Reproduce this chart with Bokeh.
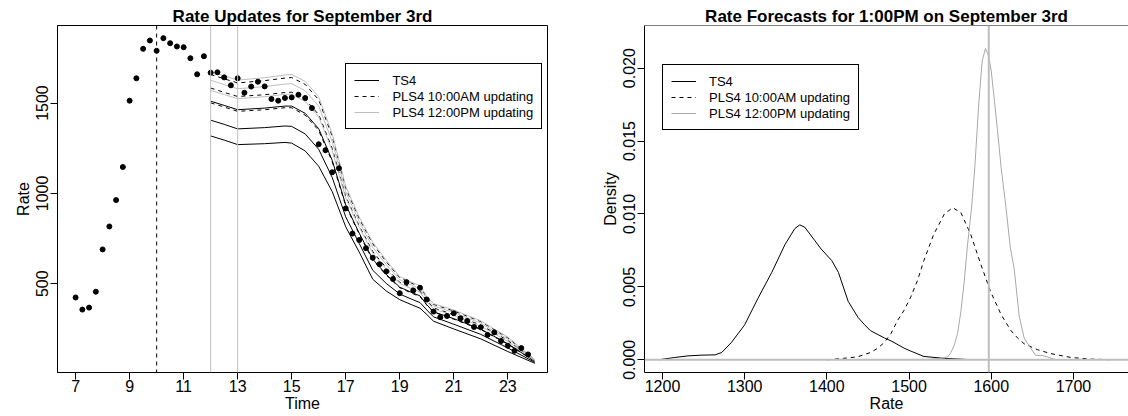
from bokeh.plotting import figure
from bokeh.models import Range1d, FixedTicker, Legend, LegendItem, Span
from bokeh.layouts import row
from bokeh.embed import file_html
from bokeh.resources import INLINE

FONT = "Liberation Sans"
GRAY = "#BEBEBE"

# ---------------- data: left panel ----------------
obs_time = [7, 7.25, 7.5, 7.75, 8, 8.25, 8.5, 8.75, 9, 9.25, 9.5, 9.75, 10, 10.25, 10.5, 10.75,
            11, 11.25, 11.5, 11.75, 12, 12.25, 12.5, 12.75, 13, 13.25, 13.5, 13.75, 14, 14.25,
            14.5, 14.75, 15, 15.25, 15.5, 15.75, 16, 16.25, 16.5, 16.75, 17, 17.25, 17.5, 17.75,
            18, 18.25, 18.5, 18.75, 19, 19.25, 19.5, 19.75, 20, 20.25, 20.5, 20.75, 21, 21.25,
            21.5, 21.75, 22, 22.25, 22.5, 22.75, 23, 23.25, 23.5, 23.75]
obs_rate = [424, 357, 368, 456, 690, 817, 963, 1146, 1513, 1637, 1800, 1846, 1789, 1859, 1831, 1813,
            1809, 1748, 1659, 1759, 1668, 1670, 1642, 1598, 1637, 1557, 1591, 1618, 1592, 1522,
            1513, 1528, 1531, 1546, 1528, 1472, 1272, 1239, 1117, 1139, 917, 778, 742, 697,
            644, 608, 568, 526, 448, 509, 463, 478, 413, 346, 315, 322, 337, 309,
            294, 261, 259, 217, 231, 183, 157, 129, 144, 109]

fc_time = [12, 12.5, 13, 14, 14.75, 15, 15.5, 16, 16.5, 17, 17.5, 18, 18.5, 19, 19.5, 19.75,
           20, 20.25, 21, 22, 23, 24]
ts4_lo = [1318, 1295, 1270, 1275, 1282, 1278, 1235, 1150, 1010, 815, 675, 525, 460, 412, 380, 365, 330, 293, 250, 195, 125, 60]
ts4_mid = [1405, 1382, 1357, 1364, 1373, 1371, 1329, 1244, 1088, 870, 723, 575, 502, 443, 411, 396, 355, 317, 276, 220, 145, 65]
ts4_hi = [1510, 1487, 1463, 1472, 1483, 1483, 1443, 1358, 1183, 937, 780, 636, 552, 481, 448, 433, 384, 345, 307, 249, 168, 71]
pls10_lo = [1501, 1478, 1454, 1463, 1474, 1474, 1433, 1348, 1175, 931, 775, 631, 548, 478, 444, 429, 382, 343, 304, 247, 166, 70]
pls10_mid = [1583, 1559, 1536, 1546, 1558, 1560, 1520, 1436, 1248, 983, 820, 679, 588, 508, 474, 459, 406, 366, 329, 271, 186, 75]
pls10_hi = [1658, 1634, 1611, 1624, 1638, 1641, 1603, 1518, 1316, 1030, 861, 721, 622, 534, 499, 484, 426, 386, 350, 291, 201, 79]
pls12_lo = [1570, 1547, 1524, 1535, 1548, 1549, 1509, 1424, 1237, 975, 813, 671, 580, 502, 468, 453, 400, 361, 324, 265, 181, 74]
pls12_mid = [1626, 1602, 1579, 1591, 1605, 1607, 1568, 1483, 1287, 1010, 844, 702, 607, 523, 488, 473, 417, 377, 341, 282, 194, 77]
pls12_hi = [1674, 1650, 1627, 1640, 1655, 1658, 1620, 1535, 1330, 1040, 870, 730, 630, 540, 505, 490, 430, 390, 355, 295, 205, 80]

left_xticks = [7, 9, 11, 13, 15, 17, 19, 21, 23]
left_xlabels = ["7", "9", "11", "13", "15", "17", "19", "21", "23"]
left_yticks = [500, 1000, 1500]
left_ylabels = ["500", "1000", "1500"]

# ---------------- data: right panel ----------------
ts4_x = [1195, 1215, 1231, 1247, 1264, 1272, 1284, 1300, 1316, 1333, 1349, 1361, 1367, 1373, 1385,
         1393, 1406, 1414, 1426, 1438, 1446, 1453, 1470, 1478, 1494, 1502, 1518, 1543, 1569]
ts4_d = [0, 0.00016, 0.00027, 0.00032, 0.00034, 0.0005, 0.0012, 0.0024, 0.0042, 0.006, 0.0079,
         0.009, 0.00925, 0.0091, 0.0082, 0.0076, 0.0068, 0.006, 0.004, 0.0029, 0.0024, 0.002,
         0.0015, 0.0013, 0.0008, 0.0006, 0.00023, 0.0001, 0.00003]
p10_x = [1400, 1420, 1437, 1453, 1462, 1470, 1478, 1486, 1494, 1502, 1510, 1518, 1530, 1543,
         1553, 1563, 1575, 1587, 1599, 1612, 1624, 1632, 1640, 1656, 1672, 1697, 1721, 1749]
p10_d = [0, 0.0001, 0.0002, 0.0005, 0.0008, 0.0012, 0.0018, 0.0027, 0.0034, 0.0043, 0.0054,
         0.0068, 0.0086, 0.01, 0.01043, 0.0101, 0.0086, 0.0066, 0.0047, 0.0031, 0.002, 0.0015,
         0.0011, 0.0007, 0.00043, 0.00016, 0.00005, 0]
p12_x = [1518, 1539, 1547, 1551, 1555, 1559, 1563, 1567, 1571, 1576, 1580, 1585, 1589, 1593,
         1597, 1600, 1604, 1608, 1612, 1618, 1623, 1628, 1634, 1640, 1648, 1654, 1662, 1668, 1676, 1680]
p12_d = [0, 0.0001, 0.0002, 0.0005, 0.001, 0.0018, 0.0033, 0.0053, 0.0078, 0.0104, 0.0132,
         0.0177, 0.0205, 0.02135, 0.0208, 0.0198, 0.0177, 0.0155, 0.0132, 0.0104, 0.0078, 0.0062,
         0.003, 0.0015, 0.0008, 0.0003, 0.0003, 0.0002, 0.00005, 0]
actual_rate = 1597

right_xticks = [1200, 1300, 1400, 1500, 1600, 1700]
right_xlabels = ["1200", "1300", "1400", "1500", "1600", "1700"]
right_yticks = [0, 0.005, 0.01, 0.015, 0.02]
right_ylabels = ["0.000", "0.005", "0.010", "0.015", "0.020"]

legend_labels = ["TS4", "PLS4 10:00AM updating", "PLS4 12:00PM updating"]
titles = ["Rate Updates for September 3rd", "Rate Forecasts for 1:00PM on September 3rd"]


def style(p, xticks, xlabels, yticks, ylabels, xlab, ylab, title, title_offset):
    p.xgrid.visible = False
    p.ygrid.visible = False
    p.background_fill_color = "white"
    p.border_fill_color = "white"
    for ax, ticks, labels in ((p.xaxis[0], xticks, xlabels), (p.yaxis[0], yticks, ylabels)):
        ax.ticker = FixedTicker(ticks=ticks)
        ax.major_label_overrides = {t: l for t, l in zip(ticks, labels)}
        ax.major_tick_out = 7
        ax.major_tick_in = 0
        ax.minor_tick_out = 0
        ax.minor_tick_in = 0
        ax.major_tick_line_color = "black"
        ax.axis_line_color = "black"
        ax.major_label_text_font = FONT
        ax.major_label_text_font_size = "16px"
        ax.major_label_text_color = "black"
        ax.axis_label_text_font = FONT
        ax.axis_label_text_font_size = "16px"
        ax.axis_label_text_font_style = "normal"
        ax.axis_label_text_color = "black"
    p.xaxis.major_label_standoff = 0
    p.xaxis.axis_label_standoff = 0
    p.yaxis.major_label_standoff = 2
    p.yaxis.axis_label_standoff = 2
    p.yaxis.major_label_orientation = "vertical"
    p.xaxis.axis_label = xlab
    p.yaxis.axis_label = ylab
    p.title.text = title
    p.title.align = "center"
    p.title.text_font = FONT
    p.title.text_font_size = "17px"
    p.title.text_font_style = "bold"
    p.title.text_color = "black"
    p.title.standoff = 0
    p.title.offset = title_offset


def make_legend(p, renderers, loc):
    leg = Legend(items=[LegendItem(label=l, renderers=[r]) for l, r in zip(legend_labels, renderers)],
                 location=loc)
    leg.border_line_color = "black"
    leg.border_line_alpha = 1
    leg.border_line_width = 1
    leg.background_fill_color = "white"
    leg.background_fill_alpha = 1
    leg.label_text_font = FONT
    leg.label_text_font_size = "13px"
    leg.label_text_color = "black"
    leg.glyph_width = 25
    leg.glyph_height = 16
    leg.label_height = 16
    leg.label_standoff = 13
    leg.padding = 8
    leg.spacing = 0
    leg.margin = 0
    p.add_layout(leg)


# ---------------- left panel ----------------
p1 = figure(width=564, height=416, output_backend="svg", toolbar_location=None,
            x_range=Range1d(6.33, 24.47), y_range=Range1d(9, 1929),
            min_border_left=57, min_border_right=17, min_border_top=25, min_border_bottom=44)
style(p1, left_xticks, left_xlabels, left_yticks, left_ylabels, "Time", "Rate", titles[0], 0)
p1.outline_line_color = "black"
p1.outline_line_alpha = 1
p1.outline_line_width = 1

p1.add_layout(Span(location=10, dimension="height", line_color="black", line_width=1, line_dash="4 4"))
p1.add_layout(Span(location=12, dimension="height", line_color=GRAY, line_width=1))
p1.add_layout(Span(location=13, dimension="height", line_color=GRAY, line_width=1))

r_ts = None
for ys in (ts4_lo, ts4_mid, ts4_hi):
    r = p1.line(fc_time, ys, line_color="black", line_width=1)
    r_ts = r_ts or r
r_p10 = None
for ys in (pls10_lo, pls10_mid, pls10_hi):
    r = p1.line(fc_time, ys, line_color="black", line_width=1, line_dash="4 4")
    r_p10 = r_p10 or r
r_p12 = None
for ys in (pls12_lo, pls12_mid, pls12_hi):
    r = p1.line(fc_time, ys, line_color=GRAY, line_width=1)
    r_p12 = r_p12 or r
p1.scatter(obs_time, obs_rate, size=5, color="black")
make_legend(p1, [r_ts, r_p10, r_p12], (288.4, 242.7))

# ---------------- right panel ----------------
p2 = figure(width=564, height=416, output_backend="svg", toolbar_location=None,
            x_range=Range1d(1178.1, 1767.0), y_range=Range1d(-0.00087, 0.022925),
            min_border_left=80, min_border_right=0, min_border_top=25, min_border_bottom=44)
style(p2, right_xticks, right_xlabels, right_yticks, right_ylabels, "Rate", "Density", titles[1], 2)
p2.outline_line_color = None
p2.add_layout(Span(location=0.022925, dimension="width", line_color="black", line_width=1))
p2.add_layout(Span(location=0, dimension="width", line_color=GRAY, line_width=2))
p2.add_layout(Span(location=actual_rate, dimension="height", line_color=GRAY, line_width=2))

q_ts = p2.line(ts4_x, ts4_d, line_color="black", line_width=1)
q_p10 = p2.line(p10_x, p10_d, line_color="black", line_width=1, line_dash="4 4")
q_p12 = p2.line(p12_x, p12_d, line_color="#A8A8A8", line_width=1)
make_legend(p2, [q_ts, q_p10, q_p12], (18, 241.7))

layout = row(p1, p2, spacing=0)
open("out.html", "w").write(file_html(layout, INLINE))
